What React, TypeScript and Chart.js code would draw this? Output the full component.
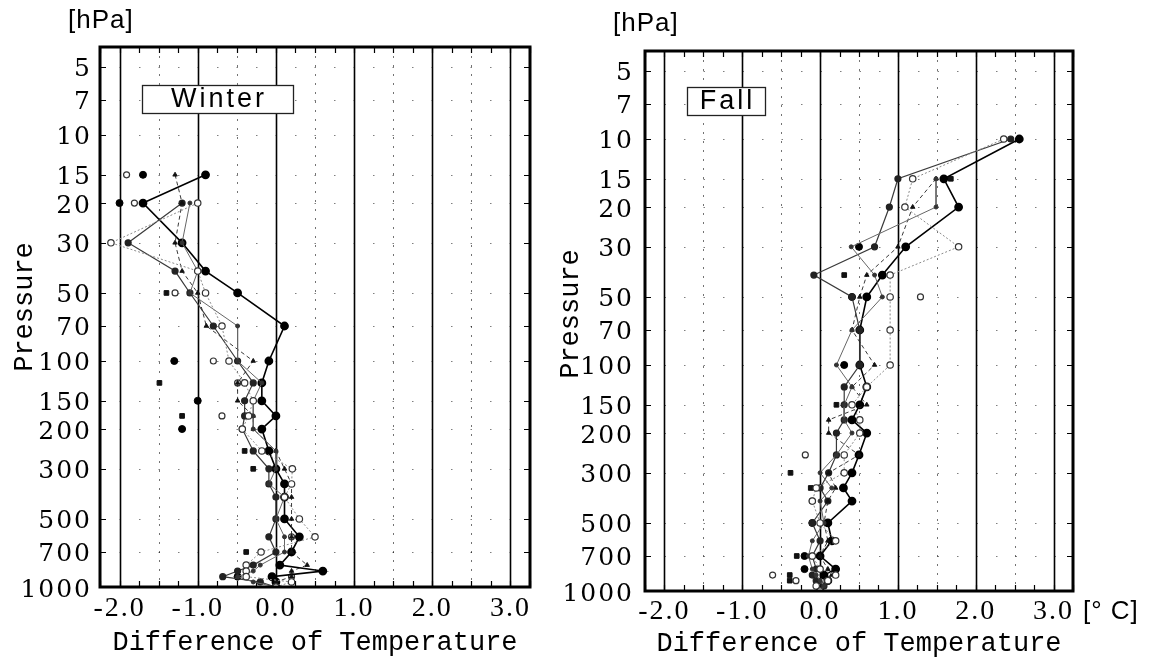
import React, { useEffect, useRef } from 'react';
import { Chart, registerables } from 'chart.js';
Chart.register(...registerables);

// ---------- data ----------
const levels = [10, 15, 20, 30, 40, 50, 70, 100, 125, 150, 175, 200, 250, 300, 350, 400, 500, 600, 700, 800, 850, 900, 950, 1000];
const pressureTicks = [5, 7, 10, 15, 20, 30, 50, 70, 100, 150, 200, 300, 500, 700, 1000];
const tempLabels = [-2, -1, 0, 1, 2, 3];

// Winter
const winterA = [null, -0.90, -1.70, -1.20, -0.90, -0.49, 0.11, -0.09, -0.18, -0.18, 0.0, -0.18, -0.09, 0.0, 0.11, 0.11, 0.11, 0.30, 0.20, 0.05, 0.60, -0.05, 0.0, 0.0];
const winterB = [null, null, -1.20, -1.89, -1.29, -1.10, -0.80, -0.49, -0.29, -0.40, -0.40, -0.43, -0.29, -0.09, -0.09, 0.0, 0.0, -0.09, 0.0, -0.29, -0.49, -0.68, -0.20, 0.0];
const winterC = [null, null, -1.0, -2.11, -1.0, -0.90, -0.69, -0.60, -0.40, -0.29, -0.35, -0.43, -0.18, 0.21, 0.20, 0.11, 0.30, 0.50, -0.19, -0.38, -0.38, -0.38, 0.20, 0.0];
const winterD = [null, -1.29, -1.20, -1.29, -1.20, -1.0, -0.89, -0.29, -0.49, -0.49, -0.29, -0.29, 0.0, 0.11, 0.20, 0.20, 0.20, 0.20, 0.20, 0.40, 0.20, 0.20, 0.0, 0.0];
const winterE = [null, null, -1.10, -1.20, -1.0, -1.10, -0.49, -0.49, -0.18, -0.29, -0.29, -0.29, 0.0, 0.0, -0.09, 0.11, 0.0, 0.11, 0.11, -0.20, -0.29, -0.49, -0.29, 0.0];
const winterSquares = [null, null, null, null, null, -1.40, null, null, -1.49, null, -1.20, null, -0.40, -0.29, null, null, null, null, -0.38, null, null, null, null, null];
const winterDots = [null, -1.70, -2.0, null, null, null, null, -1.30, null, -1.0, null, -1.20, null, null, null, null, null, null, null, null, null, -0.49, null, null];
const winterOpen = [null, -1.91, -1.81, null, null, -1.29, null, -0.80, -0.49, null, -0.69, null, null, null, null, null, null, 0.20, null, null, null, 0.20, null, null];

// Fall
const fallA = [2.56, 1.59, 1.78, 1.10, 0.80, 0.60, 0.51, 0.51, 0.60, 0.51, 0.41, 0.60, 0.50, 0.41, 0.30, 0.41, 0.10, 0.15, 0.0, 0.20, 0.05, 0.10, 0.0, 0.0];
const fallB = [2.45, 1.0, 0.89, 0.70, -0.08, 0.41, 0.51, 0.51, 0.31, 0.31, 0.31, 0.21, 0.21, 0.11, 0.0, 0.10, -0.10, 0.0, -0.10, -0.05, -0.10, -0.05, 0.05, 0.0];
const fallC = [2.36, 1.19, 1.09, 1.78, 0.90, 0.90, 0.90, 0.90, 0.60, 0.41, 0.51, 0.51, 0.31, 0.31, -0.05, -0.10, 0.0, 0.20, -0.10, 0.0, 0.20, 0.10, -0.05, 0.0];
const fallD = [null, 1.49, 1.19, 1.0, 0.60, 0.51, 0.41, 0.70, 0.41, 0.60, 0.11, 0.11, 0.50, 0.11, 0.20, 0.10, 0.05, 0.10, 0.0, 0.10, 0.15, 0.0, -0.05, 0.0];
const fallE = [null, 1.49, 1.49, 0.40, 0.70, 0.80, 0.41, 0.21, 0.41, 0.31, 0.31, 0.41, 0.21, 0.0, 0.15, 0.0, 0.05, -0.10, -0.15, -0.10, -0.05, 0.0, 0.05, 0.0];
const fallSquares = [null, 1.68, null, null, 0.31, null, null, null, null, 0.21, null, null, null, -0.38, -0.12, null, null, null, -0.30, null, -0.39, -0.39, null, null];
const fallDots = [null, null, null, 0.50, null, 0.41, null, 0.31, null, null, null, null, null, null, null, null, -0.10, null, -0.20, -0.20, null, null, null, null];
const fallOpen = [null, null, null, null, null, 1.29, null, null, null, null, null, null, -0.19, null, null, -0.10, null, null, null, null, -0.61, -0.31, null, null];

// ---------- helpers ----------
const toPoints = (arr: (number | null)[]) =>
  levels.map((p, i) => (arr[i] === null ? null : { x: arr[i] as number, y: p })).filter(Boolean) as { x: number; y: number }[];

const styleA = { showLine: true, borderColor: '#000', borderWidth: 1.6, pointStyle: 'circle', pointRadius: 3.6, pointBackgroundColor: '#000', pointBorderColor: '#000' };
const styleB = { showLine: true, borderColor: '#3a3a3a', borderWidth: 1.2, pointStyle: 'circle', pointRadius: 3, pointBackgroundColor: '#222', pointBorderColor: '#222' };
const styleC = { showLine: true, borderColor: '#8a8a8a', borderWidth: 1, borderDash: [2, 2], pointStyle: 'circle', pointRadius: 3.2, pointBackgroundColor: '#fff', pointBorderColor: '#333', pointBorderWidth: 1.2 };
const styleD = { showLine: true, borderColor: '#222', borderWidth: 0.9, borderDash: [4, 3], pointStyle: 'triangle', pointRadius: 2.6, pointBackgroundColor: '#111', pointBorderColor: '#111' };
const styleE = { showLine: true, borderColor: '#666', borderWidth: 1, pointStyle: 'circle', pointRadius: 2, pointBackgroundColor: '#333', pointBorderColor: '#333' };
const styleSq = { showLine: false, pointStyle: 'rect', pointRadius: 3.3, pointBackgroundColor: '#111', pointBorderColor: '#111' };
const styleDot = { showLine: false, pointStyle: 'circle', pointRadius: 3.5, pointBackgroundColor: '#000', pointBorderColor: '#000' };
const styleOpen = { showLine: false, pointStyle: 'circle', pointRadius: 3, pointBackgroundColor: '#fff', pointBorderColor: '#333', pointBorderWidth: 1.2 };

const quarterTicks: number[] = [];
for (let k = -9; k <= 13; k++) quarterTicks.push(k / 4);

function buildDatasets(a: any[], b: any[], c: any[], d: any[], e: any[], sq: any[], dots: any[], open: any[]) {
  return [
    { label: 'C', data: toPoints(c), ...styleC },
    { label: 'E', data: toPoints(e), ...styleE },
    { label: 'D', data: toPoints(d), ...styleD },
    { label: 'B', data: toPoints(b), ...styleB },
    { label: 'A', data: toPoints(a), ...styleA },
    { label: 'sq', data: toPoints(sq), ...styleSq },
    { label: 'dots', data: toPoints(dots), ...styleDot },
    { label: 'open', data: toPoints(open), ...styleOpen },
  ];
}

type PanelOpts = {
  season: string;
  box: { x: number; y: number; w: number; h: number };
  unitY: { x: number; y: number };
  unitC?: { x: number; y: number };
  yTitle: { x: number; y: number };
  xTitleY: number;
  yWidth: number;
  xHeight: number;
  pad: { left: number; right: number; top: number; bottom: number };
  labelPad: number;
  xLabelPad: number;
};

const TICK_SPACING = '2px';

function makeConfig(datasets: any[], o: PanelOpts): any {
  const decor = {
    id: 'decor',
    beforeUpdate(chart: any) { chart.ctx.letterSpacing = TICK_SPACING; },
    beforeDraw(chart: any) { chart.ctx.letterSpacing = TICK_SPACING; },
    beforeDatasetsDraw(chart: any) {
      const { ctx, chartArea: a, scales } = chart;
      const xs = scales.x, ys = scales.y;
      ctx.save();
      // horizontal faint dotted grid
      ctx.strokeStyle = 'rgba(0,0,0,0.5)';
      ctx.lineWidth = 1;
      ctx.setLineDash([1.5, 18]);
      for (const p of pressureTicks) {
        const py = Math.round(ys.getPixelForValue(p)) + 0.5;
        ctx.beginPath(); ctx.moveTo(a.left, py); ctx.lineTo(a.right, py); ctx.stroke();
      }
      ctx.setLineDash([]);
      // tick marks on inner left/right borders
      ctx.strokeStyle = '#000';
      ctx.lineWidth = 1.2;
      for (const p of pressureTicks) {
        const py = Math.round(ys.getPixelForValue(p)) + 0.5;
        ctx.beginPath();
        ctx.moveTo(a.left, py); ctx.lineTo(a.left + 6, py);
        ctx.moveTo(a.right, py); ctx.lineTo(a.right - 6, py);
        ctx.stroke();
      }
      // vertical grid
      quarterTicks.forEach((v, i) => {
        const k = i - 9;
        const px = Math.round(xs.getPixelForValue(v)) + 0.5;
        if (k % 4 === 0) {
          ctx.strokeStyle = '#000'; ctx.lineWidth = 1.6; ctx.setLineDash([]);
          ctx.beginPath(); ctx.moveTo(px, a.top); ctx.lineTo(px, a.bottom); ctx.stroke();
        } else if (k % 2 === 0) {
          ctx.strokeStyle = 'rgba(0,0,0,0.55)'; ctx.lineWidth = 1; ctx.setLineDash([2, 7]);
          ctx.beginPath(); ctx.moveTo(px, a.top); ctx.lineTo(px, a.bottom); ctx.stroke();
        }
        ctx.setLineDash([]);
        ctx.strokeStyle = '#000'; ctx.lineWidth = 1.2;
        ctx.beginPath();
        ctx.moveTo(px, a.top); ctx.lineTo(px, a.top + 6);
        ctx.moveTo(px, a.bottom); ctx.lineTo(px, a.bottom - 6);
        ctx.stroke();
      });
      ctx.restore();
    },
    afterDatasetsDraw(chart: any) {
      const { ctx, chartArea: a } = chart;
      ctx.save();
      ctx.letterSpacing = '0px';
      // frame
      ctx.strokeStyle = '#000';
      ctx.lineWidth = 3;
      ctx.strokeRect(a.left, a.top, a.right - a.left, a.bottom - a.top);
      // season box
      const b = o.box;
      ctx.fillStyle = '#fff';
      ctx.fillRect(b.x, b.y, b.w, b.h);
      ctx.lineWidth = 1.3;
      ctx.strokeStyle = '#222';
      ctx.strokeRect(b.x + 0.5, b.y + 0.5, b.w, b.h);
      ctx.fillStyle = '#000';
      ctx.letterSpacing = '3px';
      ctx.font = '27px "Liberation Sans"';
      ctx.textAlign = 'center';
      ctx.textBaseline = 'middle';
      ctx.fillText(o.season, b.x + b.w / 2 + 1.5, b.y + b.h / 2 + 1);
      // units
      ctx.letterSpacing = '1px';
      ctx.font = '26px "Liberation Sans"';
      ctx.textAlign = 'left';
      ctx.fillText('[hPa]', o.unitY.x, o.unitY.y);
      if (o.unitC) ctx.fillText('[° C]', o.unitC.x, o.unitC.y);
      // axis titles
      ctx.letterSpacing = '0px';
      ctx.font = '27px "Liberation Mono"';
      ctx.textAlign = 'center';
      ctx.fillText('Difference of Temperature', (a.left + a.right) / 2, o.xTitleY);
      ctx.translate(o.yTitle.x, o.yTitle.y);
      ctx.rotate(-Math.PI / 2);
      ctx.fillText('Pressure', 0, 0);
      ctx.restore();
    },
  };

  return {
    type: 'scatter',
    data: { datasets },
    plugins: [decor],
    options: {
      animation: false,
      responsive: false,
      maintainAspectRatio: false,
      events: [],
      layout: { padding: o.pad },
      plugins: { legend: { display: false }, tooltip: { enabled: false } },
      scales: {
        x: {
          type: 'linear',
          min: -2.25,
          max: 3.25,
          afterBuildTicks: (s: any) => { s.ticks = quarterTicks.map((v) => ({ value: v })); },
          afterFit: (s: any) => { s.height = o.xHeight; },
          grid: { display: false, drawTicks: false },
          border: { display: false },
          ticks: {
            autoSkip: false, maxRotation: 0, minRotation: 0, padding: o.xLabelPad,
            color: '#000', font: { family: 'Liberation Serif', size: 28 },
            callback: (v: any) => {
              const n = Number(v);
              return tempLabels.some((t) => Math.abs(t - n) < 1e-6) ? n.toFixed(1) : '';
            },
          },
          title: { display: false },
        },
        y: {
          type: 'logarithmic',
          reverse: true,
          min: 4.08,
          max: 1000,
          afterBuildTicks: (s: any) => { s.ticks = pressureTicks.map((v) => ({ value: v })); },
          afterFit: (s: any) => { s.width = o.yWidth; },
          grid: { display: false, drawTicks: false },
          border: { display: false },
          ticks: {
            autoSkip: false, padding: o.labelPad, labelOffset: 3,
            color: '#000', font: { family: 'DejaVu Serif', size: 25 },
            callback: (v: any) => String(v),
          },
          title: { display: false },
        },
      },
    },
  };
}

function Panel({ cfg, left, width }: { cfg: any; left: number; width: number }) {
  const ref = useRef<HTMLCanvasElement>(null);
  useEffect(() => {
    const chart = new Chart(ref.current as HTMLCanvasElement, cfg);
    return () => chart.destroy();
  }, []);
  return (
    <canvas
      ref={ref}
      width={width}
      height={661}
      style={{ position: 'absolute', left, top: 0, width, height: 661 }}
    />
  );
}

export default function App() {
  const winterCfg = makeConfig(
    buildDatasets(winterA, winterB, winterC, winterD, winterE, winterSquares, winterDots, winterOpen),
    {
      season: 'Winter',
      box: { x: 142, y: 85, w: 151, h: 28 },
      unitY: { x: 68, y: 21 },
      yTitle: { x: 25, y: 307 },
      xTitleY: 643,
      yWidth: 100,
      xHeight: 74,
      pad: { left: 0, right: 30, top: 47, bottom: 0 },
      labelPad: 8,
      xLabelPad: 5,
    }
  );
  const fallCfg = makeConfig(
    buildDatasets(fallA, fallB, fallC, fallD, fallE, fallSquares, fallDots, fallOpen),
    {
      season: 'Fall',
      box: { x: 687 - 540, y: 87, w: 78, h: 28 },
      unitY: { x: 613 - 540, y: 24 },
      unitC: { x: 1083 - 540, y: 612 },
      yTitle: { x: 571 - 540, y: 314 },
      xTitleY: 644,
      yWidth: 105,
      xHeight: 70,
      pad: { left: 0, right: 87, top: 51, bottom: 0 },
      labelPad: 11,
      xLabelPad: 4,
    }
  );
  return (
    <div style={{ position: 'absolute', left: 0, top: 0, width: 1160, height: 661, background: '#fff' }}>
      <Panel cfg={winterCfg} left={0} width={560} />
      <Panel cfg={fallCfg} left={540} width={620} />
    </div>
  );
}
